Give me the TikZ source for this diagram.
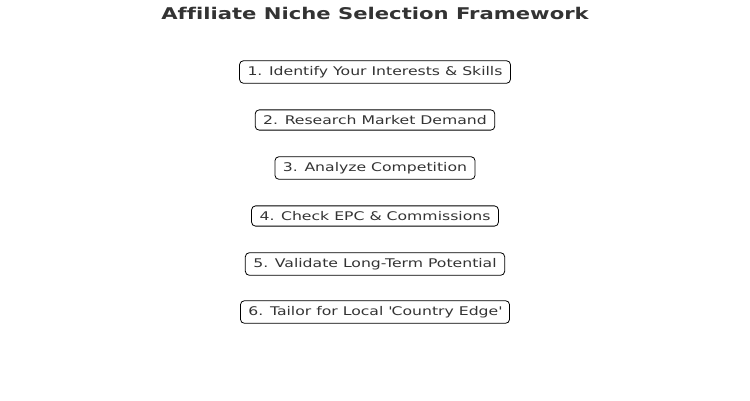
\documentclass[tikz,border=0pt]{standalone}
\usepackage{fontspec}
\setmainfont{DejaVu Sans}[FakeStretch=1.31, Ligatures=NoCommon]
\usepackage{xcolor}
\usetikzlibrary{positioning}
\definecolor{inkgray}{HTML}{333333}

\begin{document}
\begin{tikzpicture}[x=1bp, y=1bp, node distance=48bp, auto,
    stagebox/.style={draw=black, rectangle, rounded corners=4bp, line width=0.8bp,
        text=inkgray, inner xsep=8bp, inner ysep=5.5bp,
        font=\fontsize{12}{14}\selectfont}]
            \useasboundingbox (0,0) rectangle (750,-400);
            \node[font=\bfseries\fontsize{16.2}{19}\selectfont, text=inkgray] (title) at (375,-13) {Affiliate Niche Selection Framework};
            \node[stagebox] (interests) at (375,-72) {1. Identify Your Interests \& Skills};
            \node[stagebox, below of=interests] (demand) {2. Research Market Demand};
            \node[stagebox, below of=demand] (competition) {3. Analyze Competition};
            \node[stagebox, below of=competition] (epc) {4. Check EPC \& Commissions};
            \node[stagebox, below of=epc] (potential) {5. Validate Long-Term Potential};
            \node[stagebox, below of=potential] (local) {6. Tailor for Local \textquotesingle Country Edge\textquotesingle};
        \end{tikzpicture}
\end{document}
